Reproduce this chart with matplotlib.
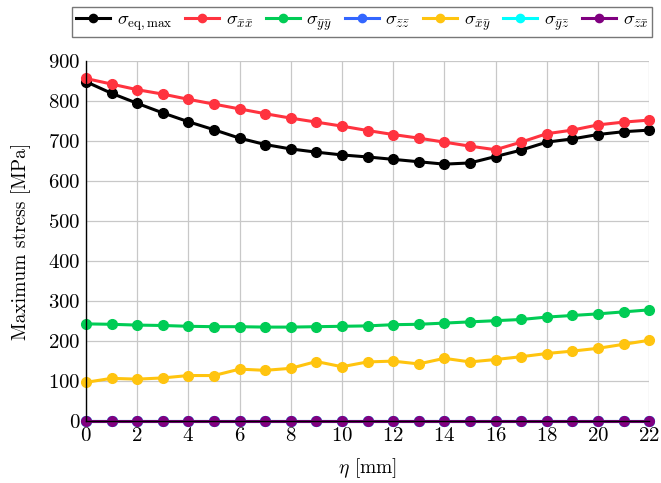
import numpy as np
import matplotlib.pyplot as plt

plt.rcParams['font.family'] = 'serif'
plt.rcParams['font.serif'] = ['cmr10']
plt.rcParams['mathtext.fontset'] = 'cm'
plt.rcParams['axes.formatter.use_mathtext'] = True

eta = list(range(23))

s_eq = [848, 819, 794, 770, 748, 728, 707, 691, 680, 672, 665, 660, 654, 648, 642,
        645, 661, 677, 697, 705, 716, 723, 727]
s_xx = [856, 842, 828, 817, 804, 792, 780, 768, 757, 747, 737, 726, 716, 707, 697,
        687, 678, 697, 718, 727, 740, 747, 752]
s_yy = [243, 242, 240, 239, 237, 236, 236, 235, 235, 236, 237, 238, 241, 242, 245,
        248, 251, 254, 260, 264, 268, 273, 278]
s_zz = [0] * 23
s_xy = [97, 107, 105, 108, 114, 114, 130, 127, 132, 149, 136, 148, 150, 143, 157,
        148, 154, 161, 169, 175, 182, 192, 202]
s_yz = [0] * 23
s_zx = [0] * 23

series = [
    (s_eq, '#000000', r'$\sigma_{\mathrm{eq,max}}$'),
    (s_xx, '#ff333f', r'$\sigma_{\bar{x}\bar{x}}$'),
    (s_yy, '#00cc55', r'$\sigma_{\bar{y}\bar{y}}$'),
    (s_zz, '#3366ff', r'$\sigma_{\bar{z}\bar{z}}$'),
    (s_xy, '#ffc40f', r'$\sigma_{\bar{x}\bar{y}}$'),
    (s_yz, '#00ffff', r'$\sigma_{\bar{y}\bar{z}}$'),
    (s_zx, '#800080', r'$\sigma_{\bar{z}\bar{x}}$'),
]

fig = plt.figure(figsize=(6.61, 4.83), dpi=100)
ax = fig.add_axes([0.130, 0.128, 0.852, 0.746])

for vals, c, lab in series:
    ax.plot(eta, vals, color=c, lw=2.2, marker='o', ms=7, label=lab, clip_on=False)

ax.set_xlim(0, 22)
ax.set_ylim(0, 900)
ax.set_xticks(np.arange(0, 23, 2))
ax.set_yticks(np.arange(0, 901, 100))
ax.grid(True, color='#c8c8c8', lw=0.9)
ax.set_axisbelow(True)
ax.tick_params(length=0, labelsize=15, pad=4)
for s in ['top', 'right']:
    ax.spines[s].set_visible(False)
for s in ['left', 'bottom']:
    ax.spines[s].set_linewidth(1.0)

ax.set_xlabel(r'$\eta$ [mm]', fontsize=14, labelpad=8)
ax.set_ylabel('Maximum stress [MPa]', fontsize=14, labelpad=12)

# legend row across the top of the figure
leg = fig.legend(loc='upper center', bbox_to_anchor=(0.548, 1.005), ncol=7,
                 fontsize=13.5, frameon=True, fancybox=False, edgecolor='#555555',
                 handlelength=1.8, handletextpad=0.35, columnspacing=0.7,
                 borderpad=0.2, markerscale=0.85)
leg.get_frame().set_linewidth(1.0)

fig.savefig('out.png', dpi=100)
